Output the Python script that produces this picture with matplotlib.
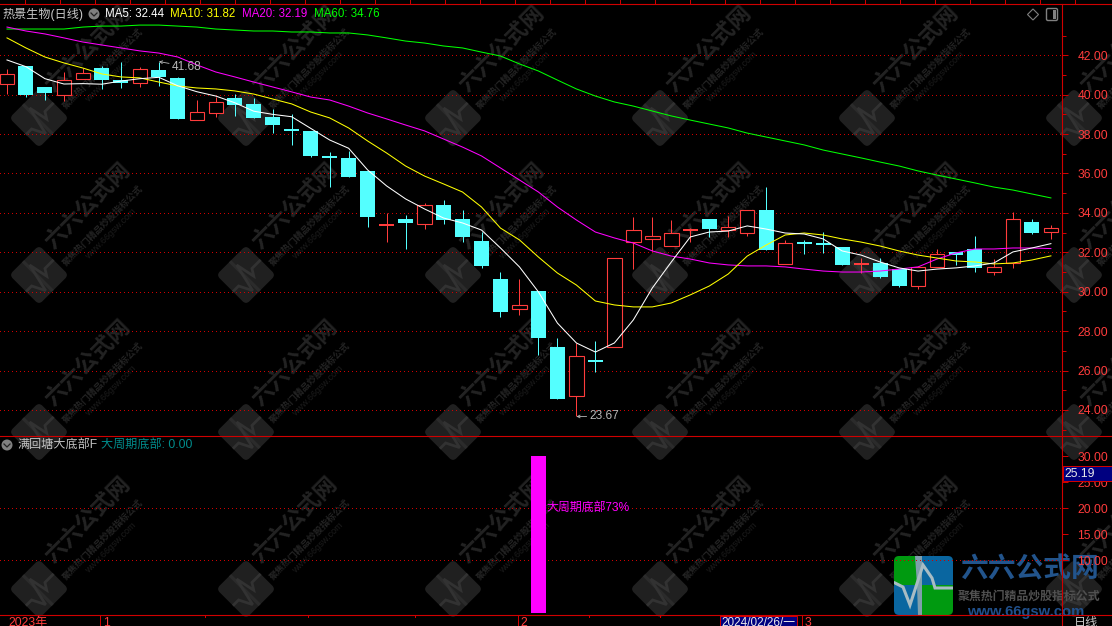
import matplotlib
matplotlib.use("Agg")
import matplotlib.pyplot as plt
from matplotlib.patches import FancyBboxPatch, Rectangle, Circle, Polygon
from matplotlib.transforms import Affine2D
import math

FONT = ['Liberation Sans', 'Noto Sans CJK SC', 'DejaVu Sans']
plt.rcParams['font.family'] = FONT

opens = [40.56,41.45,40.37,40.00,40.81,41.35,40.74,40.61,41.25,40.85,38.70,39.08,39.83,39.53,38.87,38.26,38.16,36.85,36.79,36.13,
         33.39,33.69,33.45,34.40,33.69,32.58,30.65,29.11,30.04,27.20,24.73,26.51,27.18,32.51,32.69,32.34,33.12,33.68,33.13,33.00,
         34.15,31.42,32.48,32.45,32.27,31.40,31.46,31.15,30.31,31.27,32.02,32.18,31.02,31.47,33.54,33.02]
closes = [41.03,39.98,40.10,40.73,41.08,40.74,40.61,41.29,40.90,38.78,39.11,39.61,39.48,38.82,38.46,38.17,36.90,36.83,35.84,33.81,
          33.41,33.50,34.39,33.64,32.78,31.31,28.97,29.31,27.67,24.56,26.72,26.49,31.70,33.12,32.81,32.97,33.14,33.18,33.27,34.13,
          32.12,32.46,32.46,32.43,31.36,31.42,30.75,30.29,31.27,31.92,31.88,31.22,31.24,33.68,32.98,33.22]
highs = [41.30,41.45,40.37,41.15,41.37,41.45,41.66,41.40,41.68,40.90,39.73,39.90,40.03,39.83,39.27,39.00,38.16,37.09,37.16,36.13,
         34.01,33.89,34.50,34.66,34.15,33.05,31.00,30.65,30.04,27.65,27.40,27.50,31.70,33.79,33.79,33.64,33.23,33.68,33.84,34.13,
         35.30,32.63,32.63,33.03,32.27,31.71,31.71,31.15,31.27,32.17,32.02,32.83,31.66,34.03,33.69,33.39]
lows = [40.03,39.88,39.74,39.69,40.81,40.30,40.35,40.40,40.44,38.78,38.70,38.88,38.93,38.82,38.05,37.45,36.84,35.31,35.84,33.30,
        32.52,32.17,33.18,33.44,32.52,31.21,28.72,28.82,26.79,24.56,23.67,25.93,27.18,31.15,32.07,32.34,32.54,32.76,32.79,32.84,
        32.12,31.42,31.92,31.98,31.36,30.95,30.70,30.24,30.15,31.27,31.36,31.02,30.85,31.21,32.93,32.68]

ma5 = [41.76,41.42,40.81,40.54,40.56,40.53,40.69,40.81,40.88,40.45,40.15,39.93,39.59,39.16,39.00,38.88,38.29,37.70,37.28,36.18,
       35.37,34.71,34.20,33.74,33.49,33.13,32.22,31.26,29.99,28.41,27.40,26.94,27.40,28.57,30.19,31.51,32.78,33.03,33.08,33.34,
       33.18,32.98,32.93,32.68,32.07,31.86,31.51,31.21,31.05,31.15,31.21,31.31,31.46,32.02,32.22,32.44]
ma10 = [42.88,42.37,41.91,41.61,41.35,41.05,40.90,40.85,40.64,40.44,40.34,40.29,40.19,40.03,39.78,39.53,39.12,38.82,38.31,37.65,
        37.04,36.38,35.87,35.47,35.06,34.30,33.23,32.63,31.76,30.95,30.34,29.53,29.33,29.23,29.23,29.43,29.84,30.29,30.90,31.81,
        32.37,32.88,32.98,32.88,32.68,32.52,32.32,32.07,31.86,31.71,31.56,31.51,31.41,31.46,31.61,31.82]
ma20 = [43.43,43.23,43.08,42.88,42.67,42.52,42.37,42.22,42.11,41.91,41.51,41.15,40.90,40.64,40.39,40.14,39.88,39.73,39.42,39.07,
        38.77,38.46,38.16,37.75,37.34,36.89,36.28,35.67,35.06,34.30,33.64,33.03,32.73,32.47,32.07,31.81,31.66,31.46,31.36,31.31,
        31.31,31.26,31.15,31.05,31.00,31.00,31.05,31.15,31.26,31.66,31.97,32.17,32.17,32.22,32.22,32.19]
ma60 = [43.33,43.33,43.33,43.33,43.43,43.48,43.48,43.53,43.53,43.48,43.43,43.33,43.28,43.23,43.23,43.18,43.18,43.13,43.13,43.03,
        42.88,42.72,42.62,42.47,42.37,42.16,41.96,41.56,41.20,40.74,40.29,39.93,39.63,39.42,39.17,38.92,38.71,38.51,38.31,38.05,
        37.85,37.65,37.45,37.19,36.99,36.79,36.58,36.38,36.13,35.92,35.72,35.52,35.31,35.16,34.96,34.76]

main_ticks = [24, 26, 28, 30, 32, 34, 36, 38, 40, 42]
sub_ticks = [10, 15, 20, 25, 30]
sub_grid = [10, 20]
signal_index = 28
signal_value = 30.0
cursor_value = 25.19
legend_items = [("MA5: 32.44", 105, '#ffffff'), ("MA10: 31.82", 170, '#ffff00'),
                ("MA20: 32.19", 242, '#ff00ff'), ("MA60: 34.76", 314, '#00ff00')]

W, H = 1112, 626
RED = '#ff3c3c'
LINE = '#d00000'
CYAN = '#54ffff'
PX = 0.72

fig = plt.figure(figsize=(W / 100, H / 100), dpi=100, facecolor='black')

def box(x0, y0, x1, y1):
    return [x0 / W, 1 - y1 / H, (x1 - x0) / W, (y1 - y0) / H]

# ---- watermark layer ----
bg = fig.add_axes([0, 0, 1, 1], zorder=0)
bg.set_xlim(0, W); bg.set_ylim(H, 0); bg.axis('off')
pulse = [(-1, .12), (-.62, .12), (-.3, .75), (.02, -.65), (.22, .3), (.42, -.02), (1, -.02)]
band = [(-.08, -1), (-.08, 1)]
c45 = math.cos(math.pi / 4)
for row in range(4):
    for col in range(6):
        cx, cy = 39 + 207 * col, 118 + 157 * row
        r = 21
        tr = Affine2D().rotate_deg_around(cx, cy, 45) + bg.transData
        bg.add_patch(FancyBboxPatch((cx - r + 4, cy - r + 4), 2 * r - 8, 2 * r - 8,
                                    boxstyle='round,pad=4,rounding_size=5', fc='#202020', ec='none', transform=tr))
        for shape, colr, w in ((band, '#2b2b2b', 2.4), (pulse, '#323232', 2.0)):
            pts = [(cx + (u + v) * c45 * r, cy + (v - u) * c45 * r) for u, v in shape]
            bg.plot([p[0] for p in pts], [p[1] for p in pts], color=colr, lw=w, solid_joinstyle='miter', solid_capstyle='butt')
        bg.text(cx + 49, cy - 69, "六六公式网", color='#232323', fontsize=16, fontweight='bold', rotation=45,
                rotation_mode='anchor', ha='center', va='center', family=FONT)
        bg.text(cx + 64, cy - 49, "聚焦热门精品炒股指标公式", color='#232323', fontsize=6.6, fontweight='bold', rotation=45,
                rotation_mode='anchor', ha='center', va='center', family=FONT)
        bg.text(cx + 72, cy - 41, "www.66gsw.com", color='#1c1c1c', fontsize=6.6, rotation=45,
                rotation_mode='anchor', ha='center', va='center', family=FONT)

# ---- logo layer, under the panes ----
lg = fig.add_axes([0, 0, 1, 1], zorder=0.5)
lg.set_xlim(0, W); lg.set_ylim(H, 0); lg.axis('off')
clip = FancyBboxPatch((897, 559), 53, 53, boxstyle='round,pad=3,rounding_size=5', fc='none', ec='none')
lg.add_patch(clip)
for (x, y, w, h, colr) in [(894, 556, 28, 29, '#009a10'), (922, 556, 31, 29, '#0a66a0'),
                           (894, 585, 28, 30, '#0a66a0'), (922, 585, 31, 30, '#009a10')]:
    p = lg.add_patch(Rectangle((x, y), w, h, fc=colr, ec='none'))
    p.set_clip_path(clip)
p = lg.add_patch(Polygon([(915, 556), (922, 556), (922, 615), (918, 615), (917, 585)], fc='#7f9fac', ec='none'))
p.set_clip_path(clip)
l = lg.plot([895, 903, 910, 923, 932, 935, 953], [583, 587, 605, 565, 578, 588, 588], color='#a8bcc4', lw=2.2, solid_joinstyle='miter')[0]
l.set_clip_path(clip)
lg.text(1029, 570.5, "六六公式网", color='#22548c', fontsize=20, fontweight='bold', ha='center', va='center', family=FONT)
lg.text(1029, 597, "聚焦热门精品炒股指标公式", color='#505050', fontsize=8.6, fontweight='bold', ha='center', va='center', family=FONT)
lg.text(1026, 612, "www.66gsw.com", color='#20508c', fontsize=10.6, fontweight='bold', ha='center', va='center', family=FONT)

# ---- main price pane ----
ax = fig.add_axes(box(0, 4, 1062, 436), zorder=1)
ax.patch.set_alpha(0)
xlim = (-7 / 18.98, (1062 - 7) / 18.98)
ax.set_xlim(*xlim)
ax.set_ylim(22.68, 44.60)
for t in main_ticks:
    ax.plot(xlim, [t, t], color=LINE, lw=PX, ls=(0, (1, 4)), zorder=1, snap=True, dash_capstyle='butt', antialiased=False)

idx = list(range(len(opens)))
for i, o, c, h, l in zip(idx, opens, closes, highs, lows):
    up = c >= o
    colr = RED if up else CYAN
    ax.plot([i, i], [l, h], color=colr, lw=PX, zorder=2, solid_capstyle='butt', snap=True)
    if abs(c - o) < 0.06:
        ax.plot([i - 0.39, i + 0.39], [(o + c) / 2] * 2, color=colr, lw=1.45, zorder=3, solid_capstyle='butt', snap=True)
    elif up:
        ax.bar(i, c - o, bottom=o, width=0.76, facecolor='black', edgecolor=colr, linewidth=0.8, zorder=3)
    else:
        ax.bar(i, o - c, bottom=c, width=0.79, facecolor=colr, edgecolor='none', zorder=3)

for series, colr in [(ma60, '#00ff00'), (ma20, '#ff00ff'), (ma10, '#ffff00'), (ma5, '#ffffff')]:
    ax.plot(idx, series, color=colr, lw=0.75, zorder=4)

ihi = highs.index(max(highs[:12]))
ilo = lows.index(min(lows))
ax.annotate(f"{highs[ihi]:.2f}", xy=(ihi, highs[ihi]), xytext=(13, -5), textcoords='offset pixels',
            color='#b8b8b8', fontsize=8.6, va='center', zorder=5,
            arrowprops=dict(arrowstyle='->', color='#b8b8b8', lw=0.6, shrinkA=0, shrinkB=0, mutation_scale=5))
ax.annotate(f"{lows[ilo]:.2f}", xy=(ilo, lows[ilo]), xytext=(13, 0), textcoords='offset pixels',
            color='#b8b8b8', fontsize=8.6, va='center', zorder=5,
            arrowprops=dict(arrowstyle='->', color='#b8b8b8', lw=0.6, shrinkA=0, shrinkB=0, mutation_scale=5))

ax.yaxis.tick_right()
ax.set_yticks(main_ticks)
ax.set_yticks([t + 1 for t in main_ticks[:-1]] + [43, 23], minor=True)
ax.set_yticklabels([f"{t:.2f}" for t in main_ticks])
ax.tick_params(axis='y', which='major', length=4.6, width=PX, color=LINE, labelcolor=RED, labelsize=8.7, pad=6.5)
ax.tick_params(axis='y', which='minor', length=2.6, width=PX, color=LINE)
ax.set_xticks([])
for s in ['left', 'bottom', 'top']:
    ax.spines[s].set_visible(False)
ax.spines['right'].set_color(LINE); ax.spines['right'].set_linewidth(0.8)

# ---- indicator pane ----
ax2 = fig.add_axes(box(0, 436, 1062, 615), zorder=1)
ax2.patch.set_alpha(0)
ax2.set_xlim(*xlim)
ax2.set_ylim(-0.44, 33.83)
for t in sub_grid:
    ax2.plot(xlim, [t, t], color=LINE, lw=PX, ls=(0, (1, 4)), zorder=1, snap=True, dash_capstyle='butt', antialiased=False)
ax2.bar(signal_index, signal_value, width=0.79, color='#ff00ff', zorder=3)
ax2.text(signal_index + 0.45, 20, "大周期底部73%", color='#ff00ff', fontsize=8.6, va='center', zorder=4, family=FONT)
ax2.yaxis.tick_right()
ax2.set_yticks(sub_ticks)
ax2.set_yticklabels([f"{t:.2f}" for t in sub_ticks])
ax2.tick_params(axis='y', which='major', length=4.6, width=PX, color=LINE, labelcolor=RED, labelsize=8.7, pad=6.5)
ax2.set_xticks([])
for s in ['left', 'bottom', 'top']:
    ax2.spines[s].set_visible(False)
ax2.spines['right'].set_color(LINE); ax2.spines['right'].set_linewidth(0.8)

# ---- overlay: frame, legends, axis texts ----
ov = fig.add_axes([0, 0, 1, 1], zorder=3)
ov.set_xlim(0, W); ov.set_ylim(H, 0); ov.axis('off')
for y in (4, 436, 615):
    ov.plot([0, W], [y, y], color=LINE, lw=0.8, snap=True)
ov.plot([1062, 1062], [615, H], color=LINE, lw=0.8, snap=True)
for k in range(31):
    x = 25 + 35 * k
    ov.plot([x, x], [0, 4], color=LINE, lw=PX, snap=True)
for x in (205, 308, 415, 589, 660):
    ov.plot([x, x], [615, 617], color=LINE, lw=PX, snap=True)

ov.text(2, 14, "热景生物(日线)", color='#c8c8c8', fontsize=8.7, va='center', family=FONT)
ov.add_patch(Circle((94, 14), 5.5, fc='#808080', ec='none'))
ov.plot([91, 94, 97], [13, 16, 13], color='#222222', lw=0.9)
for label, x, colr in legend_items:
    ov.text(x, 14, label, color=colr, fontsize=8.3, va='center', family=FONT)
ov.add_patch(Polygon([(1033, 9), (1038.5, 14.5), (1033, 20), (1027.5, 14.5)], fc='none', ec='#808080', lw=0.8))
ov.add_patch(FancyBboxPatch((1048, 10), 8, 9, boxstyle='round,pad=1.5,rounding_size=1.5', fc='none', ec='#808080', lw=1.0))
ov.add_patch(Rectangle((1053, 10), 3, 9, fc='#808080', ec='none'))

ov.add_patch(Circle((7, 445), 5.5, fc='#808080', ec='none'))
ov.plot([4, 7, 10], [444, 447, 444], color='#222222', lw=0.9)
ov.text(17, 445, "满回塘大底部F", color='#c0c0c0', fontsize=8.7, va='center', family=FONT)
ov.text(101, 445, "大周期底部: 0.00", color='#008c8c', fontsize=8.7, va='center', family=FONT)

ov.add_patch(Rectangle((1063, 466), 49, 15, fc='#000080', ec=LINE, lw=PX))
ov.text(1064, 474, f"{cursor_value:.2f}", color='#e8e8e8', fontsize=8.7, va='center', family=FONT)

ov.text(8, 623, "2023年", color=RED, fontsize=8.7, va='center', family=FONT)
ov.plot([100, 100], [615, H], color=LINE, lw=PX, snap=True)
ov.text(103, 623, "1", color=RED, fontsize=8.7, va='center', family=FONT)
ov.plot([518, 518], [615, H], color=LINE, lw=PX, snap=True)
ov.text(520, 623, "2", color=RED, fontsize=8.7, va='center', family=FONT)
ov.add_patch(Rectangle((720, 616), 77, 11, fc='#000080', ec=LINE, lw=PX))
ov.text(721, 623, "2024/02/26/一", color='#e8e8e8', fontsize=8.5, va='center', family=FONT)
ov.plot([802, 802], [615, H], color=LINE, lw=PX, snap=True)
ov.text(805, 623, "3", color=RED, fontsize=8.7, va='center', family=FONT)
ov.text(1074, 623, "日线", color='#c8c8c8', fontsize=8.7, va='center', family=FONT)

fig.savefig('out.png', dpi=100, facecolor='black')
